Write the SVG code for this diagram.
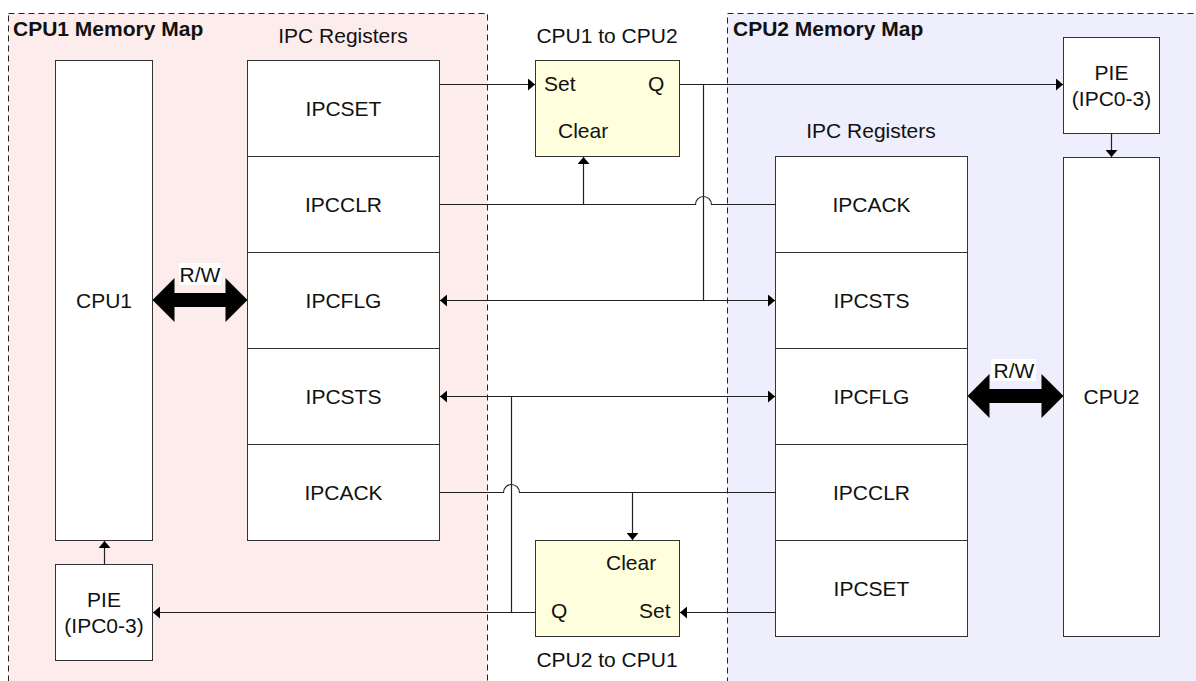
<svg xmlns="http://www.w3.org/2000/svg" width="1196" height="681" viewBox="0 0 1196 681">
<style>
text{font-family:"Liberation Sans",Arial,sans-serif;font-size:21px;fill:#111}
.t{text-anchor:middle}
.b{font-weight:bold}
.box{fill:#fff;stroke:#333;stroke-width:1}
.ff{fill:#FFFFDD;stroke:#333;stroke-width:1}
.reg{stroke-width:1;stroke-dasharray:6,4;stroke:#222}
.c{fill:none;stroke:#222;stroke-width:1.2}
.rw{fill:#000}
</style>
<defs>
<marker id="ah" markerUnits="userSpaceOnUse" markerWidth="8" markerHeight="12" refX="7" refY="6" orient="auto-start-reverse" viewBox="0 0 8 12">
<path d="M0,0 L7,6 L0,12 z" fill="#000"/>
</marker>
</defs>
<g id="cpu1-region">
<rect x="8.5" y="13.5" width="479" height="700" class="reg" fill="#FCEDEC"/>
<text x="13" y="36" class="b">CPU1 Memory Map</text>
<text x="343" y="43" class="t">IPC Registers</text>
</g>
<g id="cpu2-region">
<rect x="727.5" y="13.5" width="500" height="700" class="reg" fill="#EEEEFC"/>
<text x="733" y="36" class="b">CPU2 Memory Map</text>
<text x="871" y="138" class="t">IPC Registers</text>
</g>
<g id="cpu1">
<rect x="55.5" y="60.5" width="97" height="480" class="box"/>
<text x="104" y="307.5" class="t">CPU1</text>
</g>
<g id="pie1">
<rect x="55.5" y="564.5" width="97" height="96" class="box"/>
<text x="104" y="606.5" class="t">PIE</text>
<text x="104" y="632.5" class="t">(IPC0-3)</text>
</g>
<g id="cpu1-ipc">
<rect x="247.5" y="60.5" width="192" height="96" class="box"/>
<text x="343.5" y="116" class="t">IPCSET</text>
<rect x="247.5" y="156.5" width="192" height="96" class="box"/>
<text x="343.5" y="212" class="t">IPCCLR</text>
<rect x="247.5" y="252.5" width="192" height="96" class="box"/>
<text x="343.5" y="308" class="t">IPCFLG</text>
<rect x="247.5" y="348.5" width="192" height="96" class="box"/>
<text x="343.5" y="404" class="t">IPCSTS</text>
<rect x="247.5" y="444.5" width="192" height="96" class="box"/>
<text x="343.5" y="500" class="t">IPCACK</text>
</g>
<g id="cpu2-ipc">
<rect x="775.5" y="156.5" width="192" height="96" class="box"/>
<text x="871.5" y="212" class="t">IPCACK</text>
<rect x="775.5" y="252.5" width="192" height="96" class="box"/>
<text x="871.5" y="308" class="t">IPCSTS</text>
<rect x="775.5" y="348.5" width="192" height="96" class="box"/>
<text x="871.5" y="404" class="t">IPCFLG</text>
<rect x="775.5" y="444.5" width="192" height="96" class="box"/>
<text x="871.5" y="500" class="t">IPCCLR</text>
<rect x="775.5" y="540.5" width="192" height="96" class="box"/>
<text x="871.5" y="596" class="t">IPCSET</text>
</g>
<g id="pie2">
<rect x="1063.5" y="37.5" width="96" height="96" class="box"/>
<text x="1111.5" y="79.5" class="t">PIE</text>
<text x="1111.5" y="105.5" class="t">(IPC0-3)</text>
</g>
<g id="cpu2">
<rect x="1063.5" y="157.5" width="96" height="479" class="box"/>
<text x="1111.5" y="403.5" class="t">CPU2</text>
</g>
<g id="ff1">
<text x="607" y="43" class="t">CPU1 to CPU2</text>
<rect x="535.5" y="60.5" width="144" height="96" class="ff"/>
<text x="544" y="91">Set</text>
<text x="648" y="91">Q</text>
<text x="558" y="138">Clear</text>
</g>
<g id="ff2">
<rect x="535.5" y="540.5" width="144" height="96" class="ff"/>
<text x="606" y="570">Clear</text>
<text x="551" y="618">Q</text>
<text x="639" y="618">Set</text>
<text x="607" y="667" class="t">CPU2 to CPU1</text>
</g>
<g id="rw1">
<polygon class="rw" points="152.5,300 174.5,278 174.5,293 225.5,293 225.5,278 247.5,300 225.5,322 225.5,307 174.5,307 174.5,322"/>
<rect x="179" y="263" width="42" height="22" fill="#fff"/>
<text x="200" y="282" class="t">R/W</text>
</g>
<g id="rw2">
<polygon class="rw" points="967.5,396 989.5,374 989.5,389 1041.5,389 1041.5,374 1063.5,396 1041.5,418 1041.5,403 989.5,403 989.5,418"/>
<rect x="991" y="359" width="45" height="22" fill="#fff"/>
<text x="1014" y="378" class="t">R/W</text>
</g>
<g id="connectors">
<path class="c" d="M440,84.5 H535" marker-end="url(#ah)"/>
<path class="c" d="M679.5,84.5 H1063" marker-end="url(#ah)"/>
<path class="c" d="M703.5,84.5 V300.5"/>
<path class="c" d="M440,300.5 H775" marker-start="url(#ah)" marker-end="url(#ah)"/>
<path class="c" d="M440,204.5 H695.5 A8,8 0 0,1 711.5,204.5 H775.5"/>
<path class="c" d="M583.5,204.5 V157" marker-end="url(#ah)"/>
<path class="c" d="M440,396.5 H775" marker-start="url(#ah)" marker-end="url(#ah)"/>
<path class="c" d="M511.5,396.5 V612.5"/>
<path class="c" d="M440,492.5 H503.5 A8,8 0 0,1 519.5,492.5 H775.5"/>
<path class="c" d="M632.5,492.5 V540" marker-end="url(#ah)"/>
<path class="c" d="M775.5,612.5 H680" marker-end="url(#ah)"/>
<path class="c" d="M535.5,612.5 H153" marker-end="url(#ah)"/>
<path class="c" d="M104.5,564.5 V541" marker-end="url(#ah)"/>
<path class="c" d="M1111.5,133.5 V157" marker-end="url(#ah)"/>
</g>
</svg>
